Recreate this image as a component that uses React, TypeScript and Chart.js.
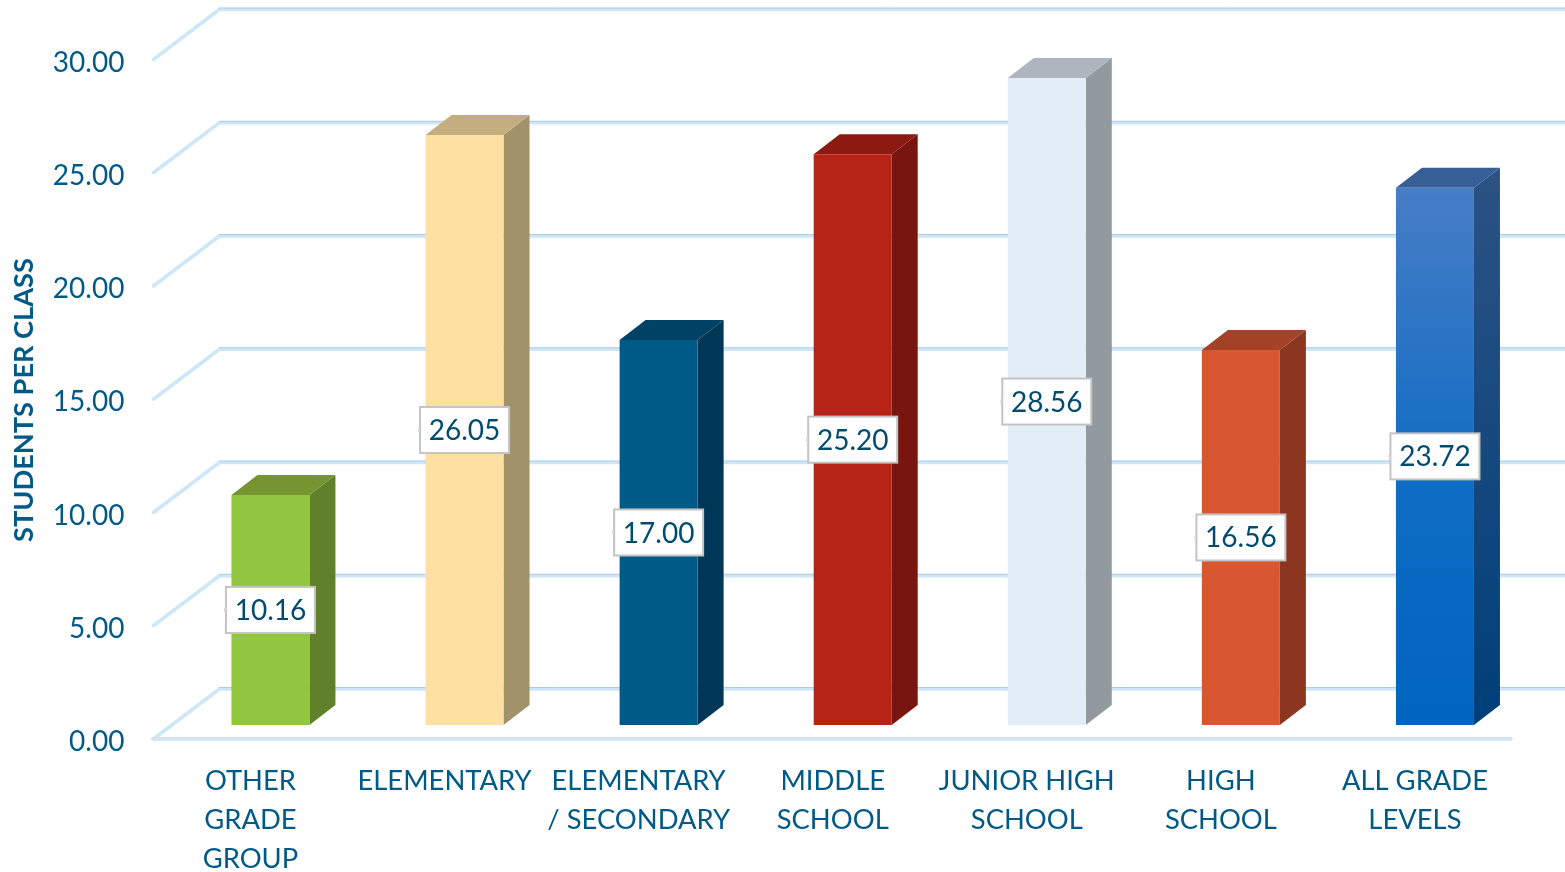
import React, { useEffect, useRef } from "react";
import { Chart, registerables } from "chart.js";

Chart.register(...registerables);

const categories = [
  ["OTHER", "GRADE", "GROUP"],
  ["ELEMENTARY"],
  ["ELEMENTARY", "/ SECONDARY"],
  ["MIDDLE", "SCHOOL"],
  ["JUNIOR HIGH", "SCHOOL"],
  ["HIGH", "SCHOOL"],
  ["ALL GRADE", "LEVELS"],
];
const studentsPerClass = [10.16, 26.05, 17.0, 25.2, 28.56, 16.56, 23.72];
const frontColors = ["#92c63f", "#fee0a3", "#005a87", "#b52416", "#e2edf7", "#d95730", "#0064bd"];
const sideColors = ["#60802a", "#a1926a", "#003756", "#78150e", "#929aa0", "#8c3520", "#003f7a"];
const topColors = ["#769530", "#c4ae80", "#004166", "#8c1a10", "#adb6bf", "#a34227", "#375f96"];
const gradientTop = "#477dc5";
const gradientSideTop = "#2c5283";
const gradientIndex = 6;
const yTitle = "STUDENTS PER CLASS";

const FONT = "Lato, Carlito, sans-serif";
const INK = "#005a87";
const LABEL_INK = "#004b6e";
const GRID = "#cde7f8";
const GRID_EDGE = "#aecde0";

// depth of the back wall and of the bars, relative to the bar plane
const WALL_DX = 46;
const WALL_DY = 36;
const FLOOR_DX = 21;
const FLOOR_DY = 14;
const BAR_DX = 26;
const BAR_DY = 20;

const threeD = {
  id: "threeD",
  beforeDatasetsDraw(chart: any) {
    const { ctx, scales } = chart;
    const { x, y } = scales;
    const line = (x0: number, y0: number, x1: number, y1: number, c: string, w: number) => {
      ctx.strokeStyle = c;
      ctx.lineWidth = w;
      ctx.beginPath();
      ctx.moveTo(x0, y0);
      ctx.lineTo(x1, y1);
      ctx.stroke();
    };
    ctx.save();
    ctx.lineCap = "round";
    const fx = x.left - FLOOR_DX;
    const bx = x.left + WALL_DX;
    y.ticks.forEach((t: any) => {
      const py = y.getPixelForValue(t.value);
      const by = py - WALL_DY;
      line(fx + 1, py + FLOOR_DY, bx, by, GRID, 3.5);
      line(bx, by, chart.width + 4, by, GRID, 3.5);
      line(bx, by - 1.5, chart.width + 4, by - 1.5, GRID_EDGE, 1);
    });
    const floorY = y.getPixelForValue(0) + FLOOR_DY;
    line(fx, floorY, x.right - FLOOR_DX, floorY, GRID, 3.5);
    line(fx, floorY - 1.5, x.right - FLOOR_DX, floorY - 1.5, "#dddddd", 1);
    ctx.restore();

    // side and top faces of every bar
    const meta = chart.getDatasetMeta(0);
    meta.data.forEach((bar: any, i: number) => {
      const p = bar.getProps(["x", "y", "base", "width"], true);
      const l = p.x - p.width / 2;
      const r = p.x + p.width / 2;
      const face = (pts: number[][], fill: any) => {
        ctx.fillStyle = fill;
        ctx.beginPath();
        pts.forEach((q, k) => (k ? ctx.lineTo(q[0], q[1]) : ctx.moveTo(q[0], q[1])));
        ctx.closePath();
        ctx.fill();
      };
      let side: any = sideColors[i];
      if (i === gradientIndex) {
        side = ctx.createLinearGradient(0, p.y - BAR_DY, 0, p.base);
        side.addColorStop(0, gradientSideTop);
        side.addColorStop(1, sideColors[i]);
      }
      face(
        [[r, p.y], [r + BAR_DX, p.y - BAR_DY], [r + BAR_DX, p.base - BAR_DY], [r, p.base]],
        side
      );
      face(
        [[l, p.y], [l + BAR_DX, p.y - BAR_DY], [r + BAR_DX, p.y - BAR_DY], [r, p.y]],
        topColors[i]
      );
    });
  },
  afterDatasetsDraw(chart: any) {
    const { ctx } = chart;
    const meta = chart.getDatasetMeta(0);
    ctx.save();
    meta.data.forEach((bar: any, i: number) => {
      const p = bar.getProps(["x", "y", "base", "width"], true);
      const cy = (p.y + p.base) / 2;
      const w = 89;
      const h = 46;
      ctx.fillStyle = "#ffffff";
      ctx.strokeStyle = "#c4c4c4";
      ctx.lineWidth = 2;
      ctx.fillRect(p.x - w / 2, cy - h / 2, w, h);
      ctx.strokeRect(p.x - w / 2, cy - h / 2, w, h);
      ctx.fillStyle = "#d8d8d8";
      ctx.fillRect(p.x - w / 2 - 2, cy - 2, 2, 4);
      ctx.fillStyle = LABEL_INK;
      ctx.font = `28px ${FONT}`;
      ctx.textAlign = "center";
      ctx.textBaseline = "middle";
      ctx.fillText(studentsPerClass[i].toFixed(2), p.x, cy + 1);
    });
    // axis title
    ctx.translate(24, 400);
    ctx.rotate(-Math.PI / 2);
    ctx.fillStyle = INK;
    ctx.font = `bold 27.2px ${FONT}`;
    ctx.textAlign = "center";
    ctx.textBaseline = "middle";
    ctx.fillText(yTitle, 0, 0);
    ctx.restore();
  },
};

export default function App() {
  const ref = useRef<HTMLCanvasElement>(null);
  useEffect(() => {
    const chart = new Chart(ref.current as HTMLCanvasElement, {
      type: "bar",
      data: {
        labels: categories,
        datasets: [
          {
            data: studentsPerClass,
            barPercentage: 1,
            categoryPercentage: 78 / 194.08,
            backgroundColor: (c: any) => {
              const i = c.dataIndex;
              const s = c.chart.scales?.y;
              if (i === gradientIndex && s) {
                const g = c.chart.ctx.createLinearGradient(
                  0,
                  s.getPixelForValue(studentsPerClass[i]),
                  0,
                  s.getPixelForValue(0)
                );
                g.addColorStop(0, gradientTop);
                g.addColorStop(0.55, "#0f6cc4");
                g.addColorStop(1, frontColors[i]);
                return g;
              }
              return frontColors[i];
            },
          },
        ],
      } as any,
      options: {
        animation: false,
        responsive: false,
        devicePixelRatio: 1,
        layout: { padding: { left: 0, right: 33, top: 45.5, bottom: 0 } },
        plugins: { legend: { display: false }, tooltip: { enabled: false } },
        scales: {
          x: {
            grid: { display: false },
            border: { display: false },
            afterFit: (s: any) => {
              s.height = 147;
              s.paddingTop = 0;
            },
            ticks: {
              autoSkip: false,
              maxRotation: 0,
              minRotation: 0,
              padding: 29,
              labelOffset: -20,
              color: INK,
              font: { family: FONT, size: 27.4, lineHeight: 39 / 27.4 },
            },
          },
          y: {
            min: 0,
            max: 30,
            grid: { display: false, drawTicks: false, tickLength: 0 },
            border: { display: false },
            afterFit: (s: any) => {
              s.width = 173.4;
              s.paddingTop = 0;
              s.paddingBottom = 0;
            },
            ticks: {
              stepSize: 5,
              padding: 49,
              labelOffset: 17,
              color: INK,
              font: { family: FONT, size: 28 },
              callback: (v: any) => Number(v).toFixed(2),
            },
          },
        },
      } as any,
      plugins: [threeD],
    });
    return () => chart.destroy();
  }, []);
  return (
    <div style={{ position: "absolute", left: 0, top: 0, width: 1565, height: 872 }}>
      <canvas ref={ref} width={1565} height={872} style={{ display: "block" }} />
    </div>
  );
}
